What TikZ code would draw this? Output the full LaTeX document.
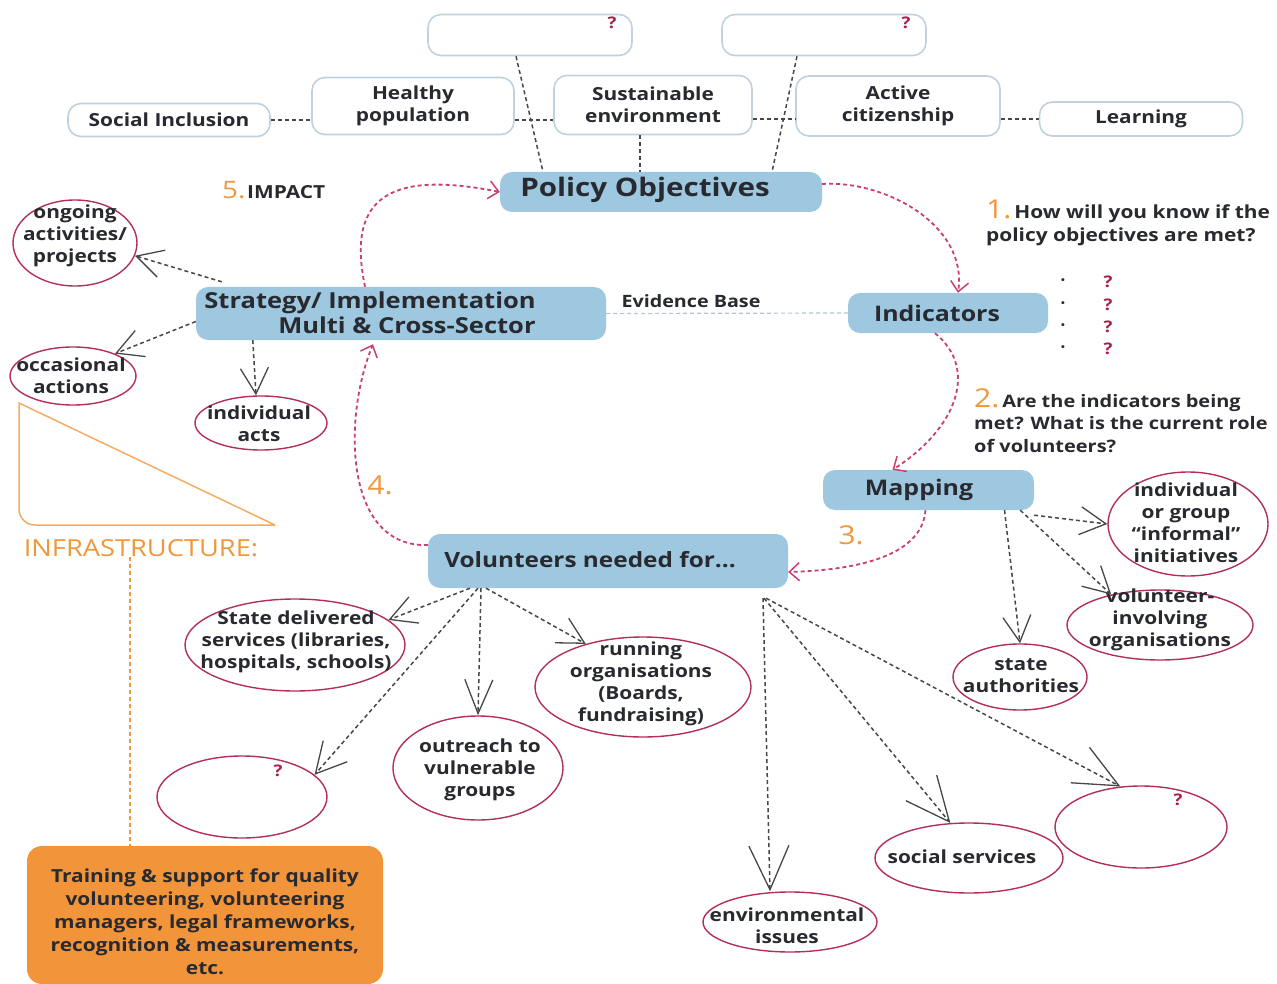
\documentclass[tikz,border=0pt]{standalone}
\usepackage{fontspec}
\setmainfont{Open Sans}[FakeStretch=1.16]
\usetikzlibrary{arrows.meta,shapes.geometric}
\definecolor{boxblue}{RGB}{158,199,224}
\definecolor{topedge}{RGB}{192,210,222}
\definecolor{ellred}{RGB}{178,46,92}
\definecolor{pinkd}{RGB}{200,64,112}
\definecolor{orline}{RGB}{244,172,100}
\definecolor{orfill}{RGB}{242,148,58}
\definecolor{numor}{RGB}{240,150,60}
\definecolor{txt}{RGB}{40,42,48}
\definecolor{dgray}{RGB}{70,70,75}
\definecolor{qred}{RGB}{170,30,70}
\definecolor{evid}{RGB}{180,198,212}
\newcommand{\fsz}[2]{\fontsize{#1}{#2}\selectfont\bfseries}
\begin{document}
\begin{tikzpicture}[x=1pt,y=-1pt,
 every node/.style={text=txt, inner sep=0pt},
 topbox/.style={draw=topedge, line width=1.6pt, rounded corners=13pt, fill=white, align=center, font=\fsz{18}{22}},
 bluebox/.style={fill=boxblue, rounded corners=12pt},
 bluetext/.style={font=\fsz{21.5}{25}},
 ellshape/.style={ellipse, draw=ellred, line width=1.4pt},
 elltext/.style={align=center, font=\fsz{18}{22}},
 gdash/.style={draw=dgray, line width=1.5pt, dash pattern=on 4pt off 3pt},
 garrow/.style={gdash, -{Straight Barb[length=26pt,width=28pt,line width=1.3pt]}},
 bigarrow/.style={gdash, -{Straight Barb[length=44pt,width=40pt,line width=1.3pt]}},
 pdash/.style={draw=pinkd, line width=1.8pt, dash pattern=on 4pt off 3pt, -{Straight Barb[length=10pt,width=18pt,line width=1.5pt]}},
 qmark/.style={text=qred, font=\fsz{16}{16}},
 num/.style={text=numor, font=\fontsize{26}{26}\selectfont},
 para/.style={align=left, anchor=north west},
]
\useasboundingbox (0,0) rectangle (1277,984);

% ---- top row
\node[topbox, minimum width=204pt, minimum height=41pt] (q1) at (530,35) {};
\node[qmark] (q1m) at (612,23) {?};
\node[topbox, minimum width=204pt, minimum height=41pt] (q2) at (824,35) {};
\node[qmark] (q2m) at (906,23) {?};
\node[topbox, minimum width=202pt, minimum height=33pt] (soc) at (169,120) {Social Inclusion};
\node[topbox, minimum width=202pt, minimum height=57pt] (hea) at (413,106) {Healthy\\population};
\node[topbox, minimum width=198pt, minimum height=59pt] (sus) at (653,105) {Sustainable\\environment};
\node[topbox, minimum width=204pt, minimum height=60pt] (act) at (898,106) {Active\\citizenship};
\node[topbox, minimum width=203pt, minimum height=34pt] (lea) at (1141,119) {Learning};

\draw[gdash] (soc.east) -- (soc.east -| hea.west);
\draw[gdash] ([yshift=-14pt]hea.east) -- ([yshift=-14pt]hea.east -| sus.west);
\draw[gdash] ([yshift=-14pt]sus.east) -- ([yshift=-14pt]sus.east -| act.west);
\draw[gdash] ([yshift=-13pt]act.east) -- ([yshift=-13pt]act.east -| lea.west);

% ---- blue boxes
\node[bluebox, minimum width=322pt, minimum height=40pt] (pol) at (661,192) {};
\node[font=\fsz{25.5}{25}] (polt) at (645,190) {Policy Objectives};
\draw[gdash] ([xshift=-14pt]q1.south) -- ([xshift=-118pt]pol.north);
\draw[gdash] ([xshift=-27pt]q2.south) -- ([xshift=111pt]pol.north);
\draw[gdash] ([xshift=-13pt]sus.south) -- ([xshift=-21pt]pol.north);

\node[bluebox, minimum width=410pt, minimum height=53pt] (str) at (401,313.5) {};
\node[font=\fsz{22}{25}, align=right] (strt) at (370,313) {Strategy/ Implementation\\Multi \& Cross-Sector};
\node[bluebox, minimum width=200pt, minimum height=40pt] (ind) at (948,313) {};
\node[bluetext] (indt) at (937,313) {Indicators};
\node[bluebox, minimum width=211pt, minimum height=40pt] (map) at (928.5,490) {};
\node[bluetext] (mapt) at (919,490) {Mapping};
\node[bluebox, minimum width=360pt, minimum height=54pt] (vol) at (608,561) {};
\node[font=\fsz{21}{25}] (volt) at (590,560) {Volunteers needed for...};

\draw[draw=evid, line width=1.2pt, dash pattern=on 4pt off 3pt] (str.east) -- (ind.west);
\node[font=\fsz{17}{17}] (evt) at (691,301) {Evidence Base};

% ---- numbered labels
\node[anchor=base west] (imp5) at (222,199) {\textcolor{numor}{\fontsize{24}{24}\selectfont 5.}\,{\fsz{18}{18}IMPACT}};
\node[num] (n4) at (380,485) {4.};
\node[num] (n3) at (851,535) {3.};
\node[para, font=\fsz{18}{23}] (t1) at (986,200) {\textcolor{numor}{\fontsize{26}{23}\selectfont\mdseries 1.}\,How will you know if the\\policy objectives are met?};
\node[para, font=\fsz{17.2}{22.5}] (t2) at (974,388) {\textcolor{numor}{\fontsize{26}{23}\selectfont\mdseries 2.}\,Are the indicators being\\met? What is the current role\\of volunteers?};

% bullets
\foreach \yy/\nm in {282/a,305/b,327/c,349/d}{
  \node[font=\fontsize{12}{12}\selectfont] (bul\nm) at (1063,\yy) {\textbullet};
  \node[qmark] (qq\nm) at (1108,\yy) {?};
}

% ---- pink cycle
\draw[pdash] ([xshift=-36pt]str.north) .. controls (348,205) and (380,168) .. (pol.west);
\draw[pdash] ([yshift=8pt]pol.east) .. controls (885,180) and (968,225) .. ([xshift=10pt]ind.north);
\draw[pdash] ([xshift=-13pt]ind.south) .. controls (980,370) and (955,430) .. ([xshift=-36pt]map.north);
\draw[pdash] ([xshift=-3pt]map.south) .. controls (922,555) and (860,570) .. ([yshift=-11pt]vol.east);
\draw[pdash] ([yshift=16pt]vol.west) .. controls (345,548) and (342,420) .. ([xshift=-28pt,yshift=-4pt]str.south);

% ---- left ellipses
\node[ellshape, minimum width=124pt, minimum height=86pt] (ong) at (75,243) {};
\node[elltext] (ongt) at (75,236) {ongoing\\activities/\\projects};
\node[ellshape, minimum width=126pt, minimum height=58pt] (occ) at (73,376) {};
\node[elltext] (occt) at (71,376) {occasional\\actions};
\node[ellshape, minimum width=132pt, minimum height=54pt] (iac) at (261,423) {};
\node[elltext] (iact) at (259,424) {individual\\acts};

\draw[garrow] ([xshift=26pt,yshift=5pt]str.north west) -- (ong.-12);
\draw[garrow] ([yshift=-8pt]str.west) -- (occ.28);
\draw[garrow] ([xshift=57pt]str.south west) -- ([xshift=-5pt]iac.north);

% ---- infrastructure
\draw[orline, line width=1.5pt] (275,525) -- (19,403) [rounded corners=16pt] -- (19,525) -- (275,525);
\node[text=numor, font=\fontsize{23.5}{23.5}\selectfont] (inf) at (141,548) {INFRASTRUCTURE:};
\node[fill=orfill, rounded corners=15pt, minimum width=356pt, minimum height=138pt] (trn) at (205,915) {};
\node[align=center, font=\fsz{18}{23}] (trnt) at (205,922) {Training \& support for quality\\volunteering, volunteering\\managers, legal frameworks,\\recognition \& measurements,\\etc.};
\draw[draw=numor, line width=1.3pt, dash pattern=on 4pt off 3pt] ([xshift=-11pt]inf.south) -- ([xshift=-75pt]trn.north);

% ---- mapping ellipses
\node[ellshape, minimum width=160pt, minimum height=104pt] (igr) at (1188,524) {};
\node[elltext] (igrt) at (1186,523) {individual\\or group\\``informal''\\initiatives};
\node[ellshape, minimum width=186pt, minimum height=70pt] (vio) at (1160,625) {};
\node[elltext] (viot) at (1160,620) {volunteer-\\involving\\organisations};
\node[ellshape, minimum width=134pt, minimum height=66pt] (sta) at (1020,677) {};
\node[elltext] (stat) at (1021,676) {state\\authorities};

\draw[garrow] ([yshift=-5pt]map.south east) -- (igr.west);
\draw[garrow] ([xshift=-14pt]map.south east) -- (vio.148);
\draw[garrow] ([xshift=76pt]map.south) -- (sta.north);

% ---- volunteer ellipses
\node[ellshape, minimum width=220pt, minimum height=92pt] (sds) at (295,645) {};
\node[elltext] (sdst) at (296,642) {State delivered\\services (libraries,\\hospitals, schools)};
\node[ellshape, minimum width=170pt, minimum height=82pt] (qa) at (242,797) {};
\node[qmark] (qam) at (278,771) {?};
\node[ellshape, minimum width=170pt, minimum height=104pt] (out) at (478,768) {};
\node[elltext] (outt) at (480,770) {outreach to\\vulnerable\\groups};
\node[ellshape, minimum width=216pt, minimum height=100pt] (run) at (643,687) {};
\node[elltext] (runt) at (641,684) {running\\organisations\\(Boards,\\fundraising)};
\node[ellshape, minimum width=174pt, minimum height=60pt] (env) at (790,922) {};
\node[elltext] (envt) at (787,926) {environmental\\issues};
\node[ellshape, minimum width=188pt, minimum height=70pt] (soc2) at (969,858) {};
\node[elltext] (soc2t) at (962,857) {social services};
\node[ellshape, minimum width=172pt, minimum height=82pt] (qb) at (1141,827) {};
\node[qmark] (qbm) at (1178,800) {?};

\draw[garrow] ([xshift=-138pt]vol.south) -- (sds.15);
\draw[garrow, -{Straight Barb[length=30pt,width=32pt,line width=1.3pt]}] ([xshift=-130pt]vol.south) -- (qa.17);
\draw[garrow, -{Straight Barb[length=34pt,width=28pt,line width=1.3pt]}] ([xshift=-127pt]vol.south) -- (out.north);
\draw[garrow] ([xshift=-122pt]vol.south) -- (run.143);
\draw[bigarrow] ([xshift=155pt,yshift=-10pt]vol.south) -- ([xshift=-20pt]env.north);
\draw[bigarrow] ([xshift=156pt,yshift=-10pt]vol.south) -- (soc2.118);
\draw[bigarrow] ([xshift=158pt,yshift=-10pt]vol.south) -- (qb.117);
\end{tikzpicture}
\end{document}
